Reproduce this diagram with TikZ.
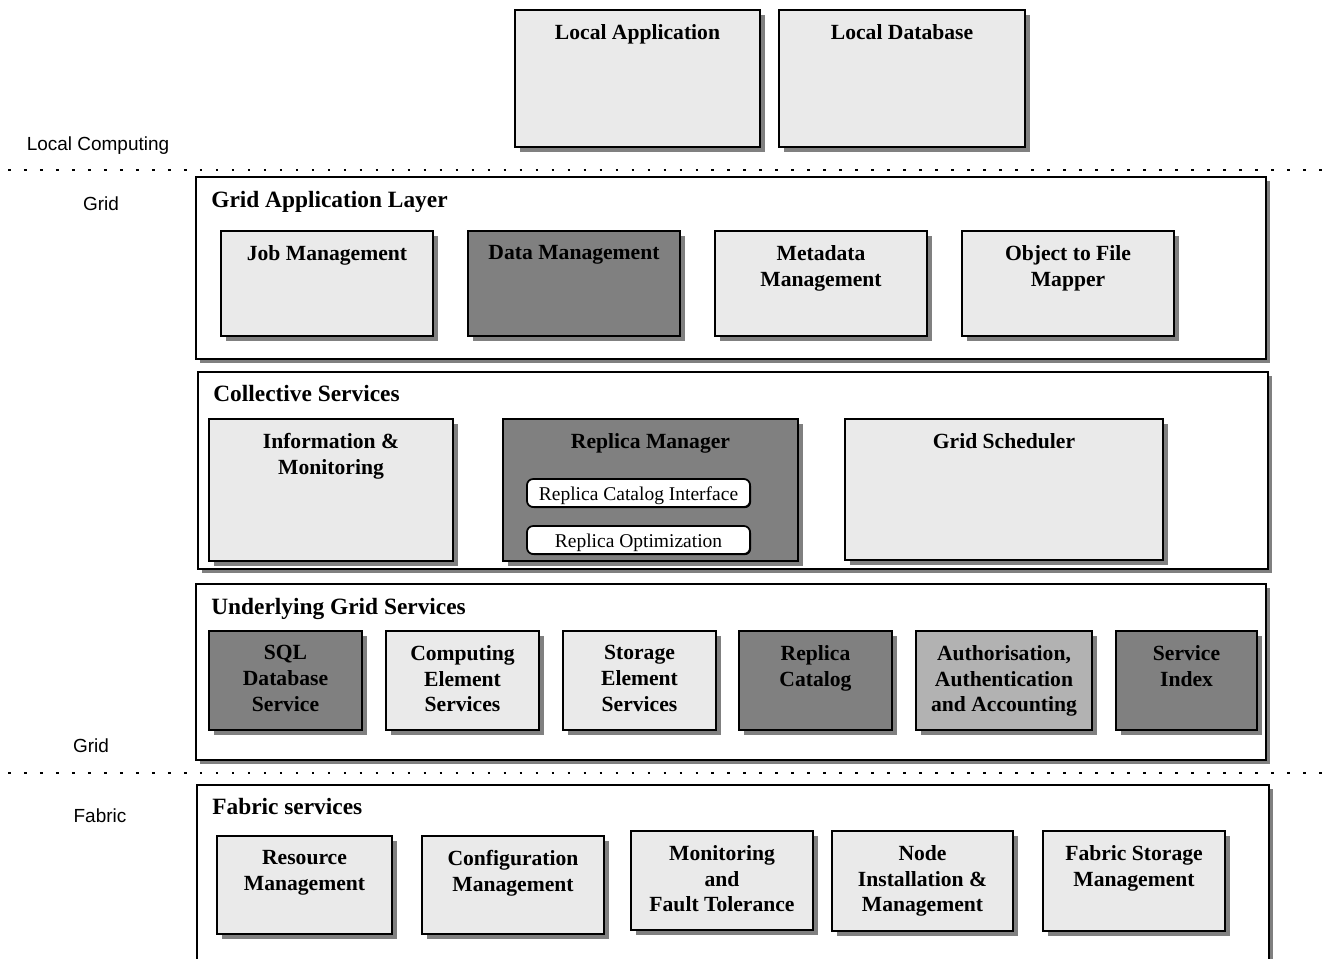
\documentclass[tikz,border=0pt]{standalone}
\usepackage{fontspec}
\setmainfont{Liberation Serif}
\newfontfamily\sidefont{Liberation Sans}
\usetikzlibrary{fit,calc,shadows}

\definecolor{boxfill}{HTML}{EAEAEA}
\definecolor{darkfill}{HTML}{808080}
\definecolor{midfill}{HTML}{B2B2B2}
\definecolor{shade}{HTML}{808080}

\tikzset{
  frame/.style={draw=black, line width=0.85pt, inner sep=0pt},
  layer/.style={frame, fill=white,
    drop shadow={shadow xshift=2.3pt, shadow yshift=-2.3pt, fill=shade, opacity=1}},
  lightbox/.style={frame, fill=boxfill,
    drop shadow={shadow xshift=2.8pt, shadow yshift=-2.8pt, fill=shade, opacity=1}},
  darkbox/.style={lightbox, fill=darkfill},
  midbox/.style={lightbox, fill=midfill},
  pill/.style={draw=black, line width=1pt, fill=white, rounded corners=3.5pt, inner sep=0pt,
    drop shadow={shadow xshift=0.6pt, shadow yshift=-0.6pt, fill=black, opacity=1}},
  boxlabel/.style={anchor=north, inner sep=0pt, align=center,
    font=\fontsize{12.3}{14.6}\selectfont\bfseries},
  title/.style={anchor=base west, inner sep=0pt,
    font=\fontsize{13.3}{16}\selectfont\bfseries},
  pilltext/.style={inner sep=0pt, font=\fontsize{11.1}{13}\selectfont},
  side/.style={inner sep=0pt, font=\fontsize{10.8}{13}\sidefont},
  separator/.style={line width=0.95pt, dash pattern=on 1.5pt off 7.6pt},
}

\begin{document}
\begin{tikzpicture}[x=0.02cm, y=-0.02cm]
\useasboundingbox (0,0) rectangle (1324,958);
\clip (0,0) rectangle (1324,958);

% ---- local computing ----
\node[lightbox, fit={(515,10) (760,147)}] (la) {};
\node[boxlabel] (laT) at ($(la.north)+(0,15)$) {Local Application};
\node[lightbox, fit={(779,10) (1025,147)}] (ld) {};
\node[boxlabel] (ldT) at ($(ld.north)+(0,15)$) {Local Database};

% ---- separators and side labels ----
\coordinate (s1a) at (8,170);  \coordinate (s1b) at (1324,170);
\coordinate (s2a) at (8,773);  \coordinate (s2b) at (1324,773);
\draw[separator] (s1a) -- (s1b);
\draw[separator] (s2a) -- (s2b);

\node[side] (sLocal) at (98,146) {Local Computing};
\node[side] (sGrid1) at (101,204) {Grid};
\node[side] (sGrid2) at (91,746) {Grid};
\node[side] (sFab) at (100,816) {Fabric};

% ---- grid application layer ----
\node[layer, fit={(196,177) (1266,359)}] (gal) {};
\node[title] (galT) at (211,207) {Grid Application Layer};
\node[lightbox, fit={(221,231) (433,336)}] (job) {};
\node[boxlabel] (jobT) at ($(job.north)+(0,15)$) {Job Management};
\node[darkbox, fit={(468,231) (680,336)}] (dm) {};
\node[boxlabel] (dmT) at ($(dm.north)+(0,15)$) {Data Management};
\node[lightbox, fit={(715,231) (927,336)}] (meta) {};
\node[boxlabel] (metaT) at ($(meta.north)+(0,15)$) {Metadata\\Management};
\node[lightbox, fit={(962,231) (1174,336)}] (obj) {};
\node[boxlabel] (objT) at ($(obj.north)+(0,15)$) {Object to File\\Mapper};

% ---- collective services ----
\node[layer, fit={(198,372) (1268,569)}] (cs) {};
\node[title] (csT) at (213,401) {Collective Services};
\node[lightbox, fit={(209,419) (453,561)}] (info) {};
\node[boxlabel] (infoT) at ($(info.north)+(0,15)$) {Information \&\\Monitoring};
\node[darkbox, fit={(503,419) (798,561)}] (rm) {};
\node[boxlabel] (rmT) at ($(rm.north)+(0,15)$) {Replica Manager};
\node[lightbox, fit={(845,419) (1163,560)}] (gs) {};
\node[boxlabel] (gsT) at ($(gs.north)+(0,15)$) {Grid Scheduler};
\node[pill, fit={(527,479) (750,507)}] (rci) {};
\node[pilltext] (rciT) at ($(rci.center)+(0,3)$) {Replica Catalog Interface};
\node[pill, fit={(527,526) (750,554)}] (ro) {};
\node[pilltext] (roT) at ($(ro.center)+(0,3)$) {Replica Optimization};

% ---- underlying grid services ----
\node[layer, fit={(196,584) (1266,760)}] (ugs) {};
\node[title] (ugsT) at (211,614) {Underlying Grid Services};
\node[darkbox, fit={(209,631) (362,730)}] (sql) {};
\node[boxlabel] (sqlT) at ($(sql.north)+(0,15)$) {SQL\\Database\\Service};
\node[lightbox, fit={(386,631) (539,730)}] (ce) {};
\node[boxlabel] (ceT) at ($(ce.north)+(0,15)$) {Computing\\Element\\Services};
\node[lightbox, fit={(563,631) (716,730)}] (se) {};
\node[boxlabel] (seT) at ($(se.north)+(0,15)$) {Storage\\Element\\Services};
\node[darkbox, fit={(739,631) (892,730)}] (rc) {};
\node[boxlabel] (rcT) at ($(rc.north)+(0,15)$) {Replica\\Catalog};
\node[midbox, fit={(916,631) (1092,730)}] (aaa) {};
\node[boxlabel] (aaaT) at ($(aaa.north)+(0,15)$) {Authorisation,\\Authentication\\and Accounting};
\node[darkbox, fit={(1116,631) (1257,730)}] (si) {};
\node[boxlabel] (siT) at ($(si.north)+(0,15)$) {Service\\Index};

% ---- fabric services ----
\node[layer, fit={(197,785) (1269,990)}] (fab) {};
\node[title] (fabT) at (212,814) {Fabric services};
\node[lightbox, fit={(217,836) (392,934)}] (res) {};
\node[boxlabel] (resT) at ($(res.north)+(0,15)$) {Resource\\Management};
\node[lightbox, fit={(422,836) (604,934)}] (conf) {};
\node[boxlabel] (confT) at ($(conf.north)+(0,15)$) {Configuration\\Management};
\node[lightbox, fit={(631,831) (813,930)}] (mon) {};
\node[boxlabel] (monT) at ($(mon.north)+(0,15)$) {Monitoring\\and\\Fault Tolerance};
\node[lightbox, fit={(832,831) (1013,931)}] (nim) {};
\node[boxlabel] (nimT) at ($(nim.north)+(0,15)$) {Node\\Installation \&\\Management};
\node[lightbox, fit={(1043,831) (1225,931)}] (fsm) {};
\node[boxlabel] (fsmT) at ($(fsm.north)+(0,15)$) {Fabric Storage\\Management};
\end{tikzpicture}
\end{document}
